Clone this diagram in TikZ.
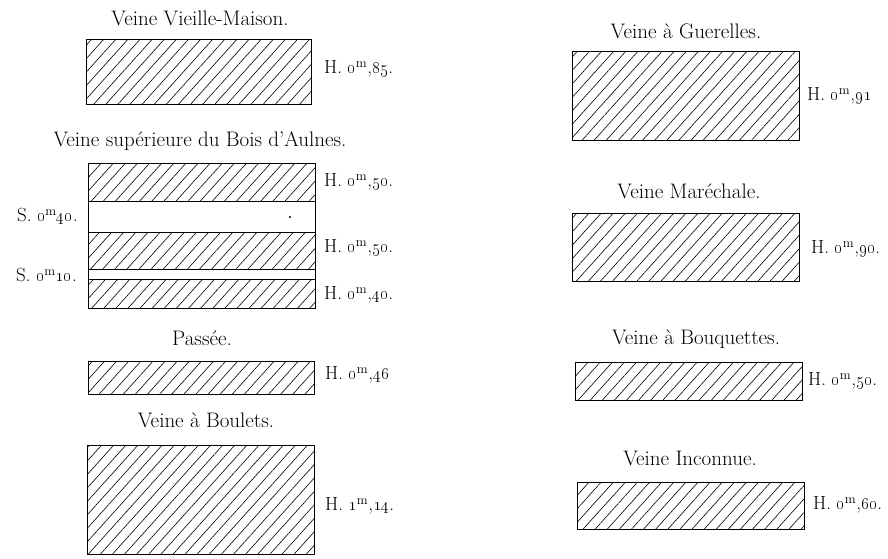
\documentclass[tikz,border=0pt]{standalone}
\usetikzlibrary{patterns.meta}
\newcommand{\om}{\oldstylenums{0}\textsuperscript{m}}
\begin{document}
\begin{tikzpicture}[x=1pt,y=-1pt,
  hatchbox/.style={draw, line width=1pt, inner sep=0pt, outer sep=0pt, anchor=north west,
    pattern={Lines[angle=48,distance=9pt,line width=0.6pt]}},
  plainbox/.style={draw, line width=1pt, inner sep=0pt, outer sep=0pt, anchor=north west, fill=white},
  seamtitle/.style={font=\fontsize{21}{24}\selectfont, inner sep=0pt},
  hlabel/.style={font=\fontsize{19}{22}\selectfont, anchor=west, inner sep=0pt},
  slabel/.style={font=\fontsize{19}{22}\selectfont, anchor=east, inner sep=0pt}]
\useasboundingbox (0,0) rectangle (888,558);

% ---------- left column ----------
\node[seamtitle] (t1) at (200,18) {Veine Vieille-Maison.};
\node[hatchbox, minimum width=225pt, minimum height=65pt] (b1) at (86,39) {};
\node[hlabel] (l1) at (324,69) {H. \om,\oldstylenums{85}.};

\node[seamtitle] (t2) at (200,141) {Veine sup\'erieure du Bois d'Aulnes.};
\node[hatchbox, minimum width=227pt, minimum height=38pt] (b2a) at (88,163) {};
\node[plainbox, minimum width=227pt, minimum height=31pt] (b2b) at (88,201) {};
\node[hatchbox, minimum width=227pt, minimum height=37pt] (b2c) at (88,232) {};
\node[plainbox, minimum width=227pt, minimum height=10pt] (b2d) at (88,269) {};
\node[hatchbox, minimum width=227pt, minimum height=29pt] (b2e) at (88,279) {};
\fill (290,217) circle (1.1);
\node[hlabel] (l2a) at (324,182) {H. \om,\oldstylenums{50}.};
\node[slabel] (l2b) at (78,217) {S. \om\oldstylenums{40}.};
\node[hlabel] (l2c) at (324,248) {H. \om,\oldstylenums{50}.};
\node[slabel] (l2d) at (77,275) {S. \om\oldstylenums{10}.};
\node[hlabel] (l2e) at (324,295) {H. \om,\oldstylenums{40}.};

\node[seamtitle] (t3) at (202,338) {Pass\'ee.};
\node[hatchbox, minimum width=226pt, minimum height=33pt] (b3) at (88,361) {};
\node[hlabel] (l3) at (325,375) {H. \om,\oldstylenums{46}};

\node[seamtitle] (t4) at (206,420) {Veine \`a Boulets.};
\node[hatchbox, minimum width=227pt, minimum height=109pt] (b4) at (87,445) {};
\node[hlabel] (l4) at (325,506) {H. \oldstylenums{1}\textsuperscript{m},\oldstylenums{14}.};

% ---------- right column ----------
\node[seamtitle] (t5) at (686,31) {Veine \`a Guerelles.};
\node[hatchbox, minimum width=227pt, minimum height=89pt] (b5) at (572,51) {};
\node[hlabel] (l5) at (807,96) {H. \om,\oldstylenums{91}};

\node[seamtitle] (t6) at (689,191) {Veine Mar\'echale.};
\node[hatchbox, minimum width=227pt, minimum height=68pt] (b6) at (572,213) {};
\node[hlabel] (l6) at (811,249) {H. \om,\oldstylenums{90}.};

\node[seamtitle] (t7) at (696,339) {Veine \`a Bouquettes.};
\node[hatchbox, minimum width=227pt, minimum height=38pt] (b7) at (575,362) {};
\node[hlabel] (l7) at (808,381) {H. \om,\oldstylenums{50}.};

\node[seamtitle] (t8) at (690,458) {Veine Inconnue.};
\node[hatchbox, minimum width=227pt, minimum height=47pt] (b8) at (577,482) {};
\node[hlabel] (l8) at (813,505) {H. \om,\oldstylenums{60}.};
\end{tikzpicture}
\end{document}
